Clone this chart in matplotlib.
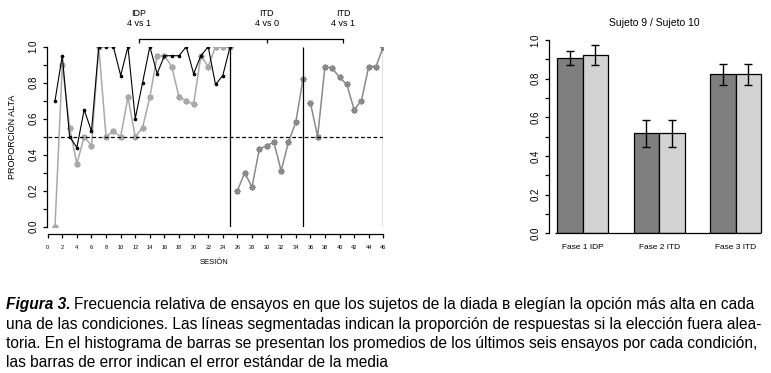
import matplotlib
matplotlib.use("Agg")
import matplotlib.pyplot as plt
import numpy as np
from matplotlib import font_manager

# ---------------- data ----------------
sessions_p1 = list(range(1, 26))
sessions_p2 = list(range(26, 36))
sessions_p3 = list(range(36, 47))

subj9_p1 = [0.70, 0.95, 0.50, 0.44, 0.65, 0.53, 1.00, 1.00, 1.00, 0.84,
            1.00, 0.60, 0.80, 1.00, 0.85, 0.95, 0.95, 0.95, 1.00, 0.85,
            0.95, 1.00, 0.79, 0.84, 1.00]
subj10_p1 = [0.00, 0.90, 0.55, 0.35, 0.50, 0.45, 1.00, 0.50, 0.53, 0.50,
             0.72, 0.50, 0.55, 0.72, 0.95, 0.95, 0.89, 0.72, 0.70, 0.68,
             0.95, 0.89, 1.00, 1.00, 1.00]
dyad_p2 = [0.20, 0.30, 0.22, 0.43, 0.45, 0.47, 0.31, 0.47, 0.58, 0.82]
dyad_p3 = [0.69, 0.50, 0.89, 0.88, 0.83, 0.79, 0.65, 0.70, 0.89, 0.89, 1.00]

phase_labels = ["IDP\n4 vs 1", "ITD\n4 vs 0", "ITD\n4 vs 1"]
phase_label_pos = [12.5, 30, 40.5]
phase_breaks = [25, 35, 46]

bar_groups = ["Fase 1 IDP", "Fase 2 ITD", "Fase 3 ITD"]
bar_subj9 = [0.905, 0.517, 0.822]
bar_subj10 = [0.921, 0.517, 0.822]
err_subj9 = [0.036, 0.068, 0.055]
err_subj10 = [0.052, 0.068, 0.055]

caption_lines = [
    "Frecuencia relativa de ensayos en que los sujetos de la diada \u0299 eleg\u00edan la opci\u00f3n m\u00e1s alta en cada",
    "una de las condiciones. Las l\u00edneas segmentadas indican la proporci\u00f3n de respuestas si la elecci\u00f3n fuera alea-",
    "toria. En el histograma de barras se presentan los promedios de los \u00faltimos seis ensayos por cada condici\u00f3n,",
    "las barras de error indican el error est\u00e1ndar de la media",
]

# ---------------- style ----------------
chart_font = ["Liberation Sans", "DejaVu Sans"]
cap_font = ["Liberation Sans", "DejaVu Sans"]
plt.rcParams['font.family'] = chart_font

W, H = 771, 373
fig = plt.figure(figsize=(W / 100, H / 100), dpi=100)

def px_rect(x0, x1, ytop, ybot):
    return [x0 / W, 1 - ybot / H, (x1 - x0) / W, (ybot - ytop) / H]

# ---------------- left line chart ----------------
ax = fig.add_axes(px_rect(47.7, 383.3, 46.7, 226.7))
ax.set_xlim(0, 46)
ax.set_ylim(0, 1)

light = "#a9a9a9"
mid = "#8a8a8a"
star = (8, 2, 0)
ax.plot(sessions_p1, subj10_p1, color=light, lw=1.1, marker=star, ms=4.5, mew=1.0, zorder=2)
ax.plot(sessions_p1, subj9_p1, color="black", lw=0.8, marker="o", ms=1.6, zorder=3)
ax.plot(sessions_p2, dyad_p2, color=mid, lw=1.1, marker=star, ms=4.5, mew=1.0)
ax.plot(sessions_p3, dyad_p3, color=mid, lw=1.1, marker=star, ms=4.5, mew=1.0)

ax.hlines(0.5, 0, 46, colors="black", linestyles=(0, (3, 2)), lw=0.9)
ax.vlines(phase_breaks, 0, 1, colors="black", lw=0.9)

for s in ["top", "right"]:
    ax.spines[s].set_visible(False)
ax.spines["left"].set_bounds(0, 1)
ax.spines["left"].set_position(("outward", 0.7))
ax.spines["bottom"].set_bounds(0, 46)
ax.spines["bottom"].set_position(("outward", 5.5))
for s in ["left", "bottom"]:
    ax.spines[s].set_linewidth(0.9)

ax.set_xticks(range(0, 47, 2))
ax.tick_params(axis="x", length=3, width=0.9, labelsize=4, pad=5)
ax.set_yticks([0, 0.2, 0.4, 0.6, 0.8, 1.0])
ax.set_yticklabels(["0.0", "0.2", "0.4", "0.6", "0.8", "1.0"], rotation=90, va="center")
ax.set_yticks(np.arange(0, 1.01, 0.1), minor=True)
ax.tick_params(axis="y", which="both", length=3, width=0.9, labelsize=7, pad=3)

# top bracket
yb = 1.043
ax.plot([phase_label_pos[0], phase_label_pos[-1]], [yb, yb], color="black", lw=0.9, clip_on=False)
ax.vlines(phase_label_pos, yb - 0.022, yb, colors="black", lw=0.9, clip_on=False)
for xp, lab in zip(phase_label_pos, phase_labels):
    ax.text(xp, 1.105, lab, ha="center", va="bottom", fontsize=6.5, linespacing=1.1, clip_on=False)

fig.text(13 / W, 1 - 137 / H, "PROPORCI\u00d3N ALTA", rotation=90, ha="center", va="center", fontsize=6.5)
fig.text(214 / W, 1 - 262 / H, "SESI\u00d3N", ha="center", va="center", fontsize=5.5)

# ---------------- right bar chart ----------------
bx = fig.add_axes(px_rect(549, 769.2, 40, 233.3))
bx.set_xlim(0.68, 9.32)
bx.set_ylim(0, 1)
left9 = [1, 4, 7]
left10 = [2, 5, 8]
bx.bar(left9, bar_subj9, width=1, align="edge", color="#7f7f7f", edgecolor="black", lw=0.9)
bx.bar(left10, bar_subj10, width=1, align="edge", color="#d3d3d3", edgecolor="black", lw=0.9)
bx.errorbar(np.array(left9) + 0.5, bar_subj9, yerr=err_subj9, fmt="none", ecolor="black", elinewidth=1, capsize=2.6, capthick=1)
bx.errorbar(np.array(left10) + 0.5, bar_subj10, yerr=err_subj10, fmt="none", ecolor="black", elinewidth=1, capsize=2.6, capthick=1)
bx.hlines(0, 0.91, 9, colors="black", lw=0.9, clip_on=False)

for s in ["top", "right", "bottom"]:
    bx.spines[s].set_visible(False)
bx.spines["left"].set_bounds(0, 1)
bx.spines["left"].set_linewidth(0.9)
bx.set_yticks([0, 0.2, 0.4, 0.6, 0.8, 1.0])
bx.set_yticklabels(["0.0", "0.2", "0.4", "0.6", "0.8", "1.0"], rotation=90, va="center")
bx.set_yticks(np.arange(0, 1.01, 0.1), minor=True)
bx.tick_params(axis="y", which="both", length=3, width=0.9, labelsize=7, pad=3)
bx.set_xticks([2, 5, 8])
bx.set_xticklabels(bar_groups)
bx.tick_params(axis="x", length=0, labelsize=6, pad=8)
fig.text(654 / W, 1 - 22.7 / H, "Sujeto 9 / Sujeto 10", ha="center", va="center", fontsize=7.5)

# ---------------- caption ----------------
cap_size = 11.2
baselines = [309, 328.5, 348, 367]
t1 = fig.text(6 / W, 1 - baselines[0] / H, "Figura 3.", fontsize=cap_size, fontweight="bold",
              fontstyle="italic", va="baseline", ha="left", family=cap_font)
fig.canvas.draw()
r = fig.canvas.get_renderer()
bb = t1.get_window_extent(r)
fig.text((bb.x1 + 4) / W, 1 - baselines[0] / H, caption_lines[0], fontsize=cap_size, va="baseline",
         ha="left", family=cap_font)
for line, yl in zip(caption_lines[1:], baselines[1:]):
    fig.text(6 / W, 1 - yl / H, line, fontsize=cap_size, va="baseline", ha="left", family=cap_font)

fig.savefig("out.png", dpi=100)
